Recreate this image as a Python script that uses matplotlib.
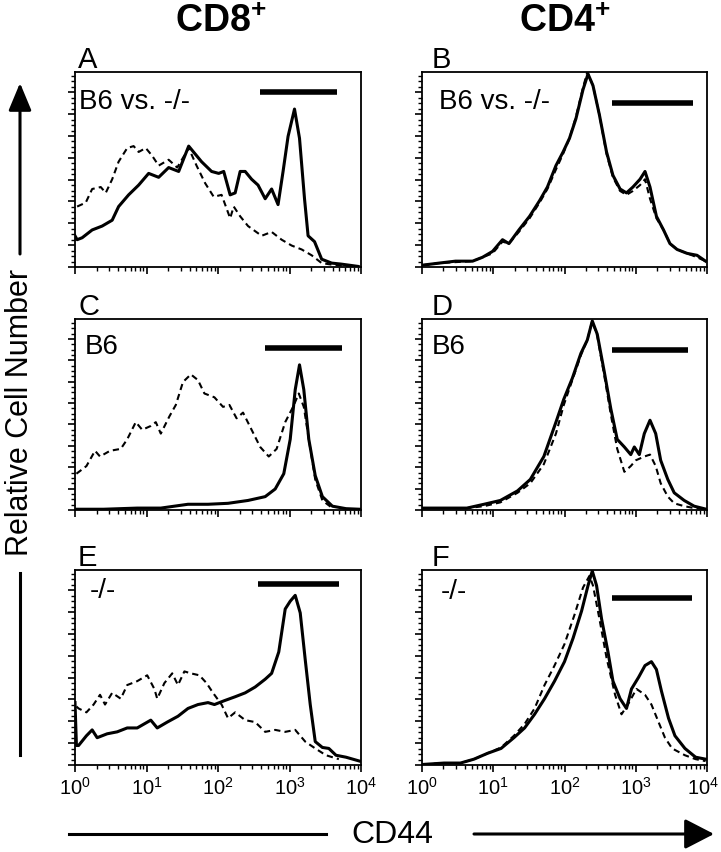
import numpy as np
import matplotlib
matplotlib.use("Agg")
import matplotlib.pyplot as plt
import matplotlib.transforms as mtransforms
from matplotlib.ticker import LogLocator, NullFormatter, MultipleLocator, FixedLocator, FixedFormatter
from matplotlib.patches import FancyArrowPatch
from matplotlib.lines import Line2D

plt.rcParams['font.family'] = ['Liberation Sans', 'DejaVu Sans']
plt.rcParams['mathtext.fontset'] = 'custom'
plt.rcParams['mathtext.rm'] = 'Liberation Sans'
plt.rcParams['mathtext.it'] = 'Liberation Sans'
plt.rcParams['mathtext.bf'] = 'Liberation Sans:bold'

# ---------------- data (x in log10 CD44 decades, y relative cell number) ----------------
column_titles = ["CD8", "CD4"]
panel_letters = ["A", "B", "C", "D", "E", "F"]
panel_texts = ["B6 vs. -/-", "B6 vs. -/-", "B6", "B6", "-/-", "-/-"]
tick_labels = ["$10^{0}$", "$10^{1}$", "$10^{2}$", "$10^{3}$", "$10^{4}$"]
tick_decades = [0, 1, 2, 3, 4]
axis_xlabel = "CD44"
axis_ylabel = "Relative Cell Number"

A_solid_lx = [0.00, 0.03, 0.10, 0.24, 0.38, 0.52, 0.61, 0.75, 0.89, 1.03, 1.17, 1.31, 1.45, 1.59, 1.68, 1.77, 1.91,
              2.01, 2.08, 2.17, 2.24, 2.31, 2.38, 2.47, 2.56, 2.66, 2.75, 2.84, 2.91, 2.98, 3.07, 3.14, 3.21, 3.26,
              3.35, 3.45, 3.59, 3.72, 3.96]
A_solid_y = [0.16, 0.14, 0.15, 0.19, 0.21, 0.24, 0.31, 0.37, 0.42, 0.48, 0.46, 0.51, 0.49, 0.62, 0.58, 0.54, 0.49,
             0.48, 0.49, 0.37, 0.38, 0.49, 0.49, 0.45, 0.42, 0.35, 0.40, 0.32, 0.49, 0.67, 0.81, 0.66, 0.35, 0.16,
             0.13, 0.04, 0.02, 0.015, 0.003]
A_dash_lx = [0.03, 0.15, 0.24, 0.36, 0.43, 0.52, 0.61, 0.73, 0.82, 0.89, 0.99, 1.08, 1.17, 1.31, 1.43, 1.59, 1.70,
             1.82, 1.94, 2.05, 2.17, 2.22, 2.31, 2.42, 2.61, 2.75, 2.89, 3.03, 3.17, 3.31, 3.45, 3.63, 3.96]
A_dash_y = [0.31, 0.33, 0.40, 0.41, 0.38, 0.45, 0.54, 0.61, 0.62, 0.59, 0.61, 0.57, 0.52, 0.55, 0.51, 0.61, 0.52,
            0.43, 0.36, 0.37, 0.25, 0.31, 0.26, 0.21, 0.16, 0.18, 0.14, 0.11, 0.09, 0.06, 0.02, 0.01, 0.002]

B_solid_lx = [0.02, 0.24, 0.47, 0.71, 0.85, 0.99, 1.13, 1.22, 1.36, 1.51, 1.65, 1.76, 1.88, 1.98, 2.07, 2.16, 2.26,
              2.33, 2.40, 2.49, 2.59, 2.68, 2.78, 2.87, 2.96, 3.06, 3.13, 3.20, 3.29, 3.39, 3.48, 3.58, 3.72, 3.86,
              3.98]
B_solid_y = [0.01, 0.02, 0.03, 0.03, 0.05, 0.08, 0.14, 0.12, 0.19, 0.26, 0.34, 0.41, 0.52, 0.59, 0.66, 0.76, 0.91,
             0.99, 0.93, 0.78, 0.59, 0.47, 0.40, 0.38, 0.41, 0.45, 0.49, 0.41, 0.26, 0.19, 0.12, 0.09, 0.07, 0.06,
             0.03]
B_dash_lx = [0.02, 0.24, 0.47, 0.71, 0.85, 0.99, 1.13, 1.22, 1.36, 1.51, 1.65, 1.76, 1.88, 1.98, 2.07, 2.16, 2.26,
             2.32, 2.40, 2.49, 2.59, 2.68, 2.78, 2.87, 2.96, 3.06, 3.13, 3.20, 3.29, 3.39, 3.48, 3.58, 3.72, 3.86,
             3.98]
B_dash_y = [0.01, 0.02, 0.025, 0.03, 0.05, 0.07, 0.13, 0.12, 0.18, 0.25, 0.33, 0.40, 0.50, 0.58, 0.66, 0.77, 0.92,
            1.00, 0.93, 0.78, 0.58, 0.46, 0.39, 0.37, 0.39, 0.42, 0.45, 0.35, 0.25, 0.19, 0.12, 0.09, 0.07, 0.05,
            0.03]

C_solid_lx = [0.02, 0.40, 0.87, 1.20, 1.58, 1.86, 2.14, 2.42, 2.66, 2.80, 2.92, 3.01, 3.08, 3.14, 3.20, 3.27, 3.36,
              3.46, 3.60, 3.79, 3.98]
C_solid_y = [0.004, 0.004, 0.01, 0.01, 0.03, 0.03, 0.035, 0.05, 0.07, 0.11, 0.19, 0.37, 0.63, 0.76, 0.63, 0.37,
             0.18, 0.07, 0.02, 0.007, 0.004]
C_dash_lx = [0.02, 0.16, 0.28, 0.35, 0.49, 0.64, 0.73, 0.85, 0.94, 1.06, 1.13, 1.20, 1.32, 1.41, 1.51, 1.62, 1.72,
             1.81, 1.95, 2.07, 2.16, 2.26, 2.35, 2.47, 2.59, 2.71, 2.82, 2.94, 3.05, 3.13, 3.20, 3.27, 3.36, 3.46,
             3.60]
C_dash_y = [0.19, 0.23, 0.31, 0.28, 0.31, 0.32, 0.37, 0.46, 0.42, 0.44, 0.46, 0.40, 0.49, 0.55, 0.67, 0.71, 0.68,
            0.61, 0.59, 0.54, 0.55, 0.48, 0.51, 0.42, 0.33, 0.28, 0.32, 0.46, 0.54, 0.61, 0.54, 0.37, 0.16, 0.05,
            0.01]

D_solid_lx = [0.02, 0.30, 0.63, 0.87, 1.10, 1.34, 1.52, 1.71, 1.88, 1.99, 2.11, 2.23, 2.32, 2.39, 2.46, 2.56, 2.65,
              2.74, 2.84, 2.93, 2.98, 3.05, 3.12, 3.20, 3.28, 3.35, 3.45, 3.54, 3.68, 3.82, 3.99]
D_solid_y = [0.01, 0.01, 0.01, 0.03, 0.05, 0.10, 0.16, 0.28, 0.46, 0.58, 0.69, 0.82, 0.89, 0.99, 0.92, 0.72, 0.53,
             0.37, 0.33, 0.29, 0.33, 0.29, 0.40, 0.47, 0.40, 0.26, 0.16, 0.09, 0.05, 0.02, 0.004]
D_dash_lx = [0.02, 0.30, 0.63, 0.87, 1.10, 1.34, 1.52, 1.71, 1.88, 1.99, 2.11, 2.23, 2.32, 2.39, 2.46, 2.56, 2.65,
             2.74, 2.84, 2.93, 3.00, 3.12, 3.20, 3.28, 3.35, 3.45, 3.54, 3.68, 3.82, 3.99]
D_dash_y = [0.01, 0.01, 0.01, 0.02, 0.04, 0.09, 0.14, 0.24, 0.40, 0.55, 0.68, 0.81, 0.89, 0.99, 0.91, 0.70, 0.50,
            0.32, 0.20, 0.23, 0.26, 0.28, 0.29, 0.23, 0.14, 0.07, 0.035, 0.02, 0.01, 0.004]

E_solid_lx = [0.00, 0.02, 0.05, 0.16, 0.24, 0.31, 0.45, 0.59, 0.73, 0.87, 1.06, 1.15, 1.29, 1.44, 1.58, 1.72, 1.86,
              1.95, 2.09, 2.24, 2.38, 2.52, 2.66, 2.75, 2.85, 2.94, 3.01, 3.08, 3.15, 3.22, 3.29, 3.36, 3.46, 3.55,
              3.65, 3.79, 3.98]
E_solid_y = [0.32, 0.10, 0.10, 0.15, 0.18, 0.14, 0.16, 0.17, 0.19, 0.19, 0.23, 0.19, 0.22, 0.25, 0.29, 0.31, 0.32,
             0.31, 0.33, 0.35, 0.37, 0.40, 0.44, 0.47, 0.58, 0.80, 0.84, 0.87, 0.78, 0.54, 0.31, 0.12, 0.09, 0.085,
             0.05, 0.04, 0.02]
E_dash_lx = [0.02, 0.05, 0.16, 0.26, 0.35, 0.42, 0.52, 0.64, 0.73, 0.87, 1.01, 1.11, 1.15, 1.25, 1.36, 1.44, 1.53,
             1.62, 1.74, 1.84, 1.93, 2.05, 2.14, 2.24, 2.38, 2.52, 2.66, 2.80, 2.94, 3.08, 3.22, 3.36, 3.51, 3.69]
E_dash_y = [0.30, 0.29, 0.27, 0.31, 0.36, 0.31, 0.37, 0.34, 0.41, 0.43, 0.46, 0.39, 0.34, 0.42, 0.47, 0.41, 0.48,
            0.47, 0.46, 0.42, 0.37, 0.31, 0.24, 0.27, 0.23, 0.22, 0.17, 0.18, 0.17, 0.18, 0.12, 0.085, 0.05, 0.03]

F_solid_lx = [0.02, 0.31, 0.54, 0.73, 0.92, 1.11, 1.29, 1.44, 1.58, 1.72, 1.86, 2.00, 2.12, 2.24, 2.33, 2.39, 2.45,
              2.52, 2.61, 2.68, 2.78, 2.87, 2.94, 3.04, 3.13, 3.22, 3.29, 3.36, 3.46, 3.55, 3.69, 3.84, 3.98]
F_solid_y = [0.003, 0.01, 0.01, 0.03, 0.06, 0.085, 0.14, 0.19, 0.26, 0.34, 0.43, 0.53, 0.65, 0.79, 0.92, 0.995,
             0.92, 0.75, 0.58, 0.43, 0.34, 0.29, 0.39, 0.45, 0.51, 0.53, 0.49, 0.38, 0.24, 0.15, 0.085, 0.04, 0.03]
F_dash_lx = [0.02, 0.31, 0.54, 0.73, 0.92, 1.11, 1.29, 1.44, 1.58, 1.72, 1.86, 2.00, 2.14, 2.26, 2.35, 2.40, 2.49,
             2.59, 2.71, 2.80, 2.89, 3.01, 3.13, 3.22, 3.32, 3.41, 3.51, 3.69, 3.84, 3.98]
F_dash_y = [0.003, 0.01, 0.01, 0.03, 0.06, 0.09, 0.15, 0.21, 0.29, 0.41, 0.51, 0.62, 0.77, 0.91, 0.97, 0.92, 0.75,
            0.55, 0.36, 0.26, 0.31, 0.39, 0.36, 0.31, 0.22, 0.14, 0.085, 0.05, 0.03, 0.02]

# gate bars: (start decade, end decade, height)
bar_lo = [2.59, 2.66, 2.66, 2.67, 2.56, 2.66]
bar_hi = [3.66, 3.81, 3.74, 3.73, 3.69, 3.79]
bar_y = [0.90, 0.84, 0.85, 0.84, 0.93, 0.855]

solid_lx = [A_solid_lx, B_solid_lx, C_solid_lx, D_solid_lx, E_solid_lx, F_solid_lx]
solid_y = [A_solid_y, B_solid_y, C_solid_y, D_solid_y, E_solid_y, F_solid_y]
dash_lx = [A_dash_lx, B_dash_lx, C_dash_lx, D_dash_lx, E_dash_lx, F_dash_lx]
dash_y = [A_dash_y, B_dash_y, C_dash_y, D_dash_y, E_dash_y, F_dash_y]

# ---------------- layout ----------------
W, H = 721, 853
fig = plt.figure(figsize=(W / 100, H / 100), dpi=100)

def fx(px):
    return px / W

def fy(py):
    return 1 - py / H

col_px = [(75, 361), (422, 707)]
row_px = [(73, 268), (320, 511), (571, 766)]
text_pos = [(0.015, 0.85), (0.06, 0.85), (0.035, 0.86), (0.035, 0.86), (0.05, 0.895), (0.065, 0.89)]

for i in range(6):
    r, c = divmod(i, 2)
    x0, x1 = col_px[c]
    y0, y1 = row_px[r]
    ax = fig.add_axes([fx(x0), fy(y1), fx(x1 - x0), (y1 - y0) / H])
    ax.plot(10 ** np.array(dash_lx[i]), dash_y[i], color='black', lw=1.5, ls=(0, (3, 2)))
    ax.plot(10 ** np.array(solid_lx[i]), solid_y[i], color='black', lw=2.2)
    ax.plot([10 ** bar_lo[i], 10 ** bar_hi[i]], [bar_y[i], bar_y[i]], color='black', lw=4, solid_capstyle='butt')
    ax.set_xscale('log')
    ax.set_xlim(1, 1e4)
    ax.set_ylim(0, 1.0)
    ax.xaxis.set_major_locator(FixedLocator([10 ** d for d in tick_decades]))
    ax.xaxis.set_minor_locator(LogLocator(base=10, subs=np.arange(2, 10), numticks=20))
    ax.xaxis.set_minor_formatter(NullFormatter())
    if r == 2:
        ax.xaxis.set_major_formatter(FixedFormatter(tick_labels))
    else:
        ax.xaxis.set_major_formatter(NullFormatter())
    ax.yaxis.set_major_locator(MultipleLocator(0.112))
    ax.yaxis.set_minor_locator(MultipleLocator(0.028))
    ax.yaxis.set_major_formatter(NullFormatter())
    ax.tick_params(axis='both', which='major', length=5, width=1.2, direction='out', labelsize=14.5, pad=3)
    ax.tick_params(axis='both', which='minor', length=3, width=1.0, direction='out')
    for s in ax.spines.values():
        s.set_linewidth(1.3)
    if r == 2 and c == 1:
        # keep the last tick label inside the picture
        fig.canvas.draw()
        last = ax.get_xticklabels()[-1]
        last.set_transform(last.get_transform() +
                           mtransforms.ScaledTranslation(-4 / 100, 0, fig.dpi_scale_trans))
    ax.text(text_pos[i][0], text_pos[i][1], panel_texts[i], transform=ax.transAxes,
            fontsize=20, ha='left', va='center')
    # panel letter
    lx = x0 + (3 if c == 0 else 10)
    fig.text(fx(lx), fy(y0 - 5), panel_letters[i], fontsize=21, ha='left', va='baseline')

# column headers
for c, title in enumerate(column_titles):
    cx = [221, 565][c]
    fig.text(fx(cx), fy(22), r"$\mathbf{%s^{+}}$" % title, fontsize=27, ha='center', va='center')

# x-axis label with arrow
fig.text(fx(392), fy(835), axis_xlabel, fontsize=23, ha='center', va='center')
fig.add_artist(Line2D([fx(69), fx(326)], [fy(835), fy(835)], color='black', lw=2.2, transform=fig.transFigure))
fig.add_artist(FancyArrowPatch((fx(474), fy(835)), (fx(714), fy(835)), transform=fig.transFigure,
                               arrowstyle='-|>,head_length=1.2,head_width=0.62', mutation_scale=15,
                               color='black', lw=2.2, shrinkA=0, shrinkB=0))

# y-axis label with arrow
fig.text(fx(20), fy(412), axis_ylabel, fontsize=22, rotation=90, ha='center', va='center')
fig.add_artist(FancyArrowPatch((fx(20), fy(255)), (fx(20), fy(84)), transform=fig.transFigure,
                               arrowstyle='-|>,head_length=1.2,head_width=0.5', mutation_scale=14,
                               color='black', lw=2.2, shrinkA=0, shrinkB=0))
fig.add_artist(Line2D([fx(20), fx(20)], [fy(574), fy(756)], color='black', lw=2.2, transform=fig.transFigure))

fig.savefig("out.png", dpi=100)
